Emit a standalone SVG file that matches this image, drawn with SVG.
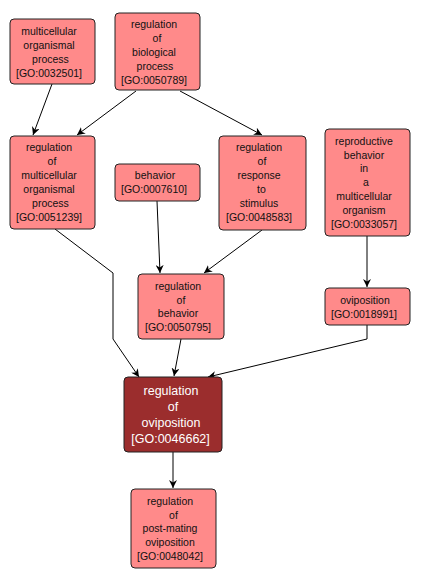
<svg xmlns="http://www.w3.org/2000/svg" width="421" height="583" viewBox="0 0 421 583">
<style>
.n rect{fill:#FF8A8A;stroke:#222;stroke-width:1}
.n text{font-family:"Liberation Sans",Arial,sans-serif;font-size:10.5px;fill:#111;text-anchor:middle}
#n_0046662 rect{fill:#9B2D2D}
#n_0046662 text{fill:#fff;font-size:12.5px}
.e path{fill:none;stroke:#000;stroke-width:1;marker-end:url(#ah)}
</style>
<defs>
<marker id="ah" viewBox="0 0 10 10" refX="10" refY="5" markerWidth="8" markerHeight="8" markerUnits="userSpaceOnUse" orient="auto">
<path d="M0,0 L10,5 L0,10 L3,5 z" fill="#000"/>
</marker>
</defs>
<rect width="421" height="583" fill="#fff"/>
<g id="edges" class="e">
<path d="M52,84 L33,135"/>
<path d="M136,91 L77,135"/>
<path d="M180,91 L262,135"/>
<path d="M55,229 L113,273 L113,339 L139,377"/>
<path d="M157,201 L160,273"/>
<path d="M262,230 L204,273"/>
<path d="M367,236 L367,287"/>
<path d="M181,339 L174,376"/>
<path d="M367,325 L367,339 L208,377"/>
<path d="M173,452 L173,488"/>
</g>
<g id="n_0032501" class="n">
<rect x="10" y="19" width="85" height="65" rx="4"/>
<text x="49" y="35.4">multicellular</text>
<text x="49" y="49.3">organismal</text>
<text x="50.5" y="63.2">process</text>
<text x="49" y="77.1">[GO:0032501]</text>
</g>
<g id="n_0050789" class="n">
<rect x="115" y="13" width="85" height="77" rx="4"/>
<text x="154" y="28">regulation</text>
<text x="157" y="41.9">of</text>
<text x="154" y="55.8">biological</text>
<text x="155" y="69.7">process</text>
<text x="154" y="83.6">[GO:0050789]</text>
</g>
<g id="n_0051239" class="n">
<rect x="10" y="136" width="85" height="93" rx="4"/>
<text x="49" y="151.3">regulation</text>
<text x="52" y="165.2">of</text>
<text x="49" y="179.1">multicellular</text>
<text x="49" y="193">organismal</text>
<text x="50.5" y="206.9">process</text>
<text x="49" y="220.8">[GO:0051239]</text>
</g>
<g id="n_0007610" class="n">
<rect x="115" y="164" width="85" height="37" rx="4"/>
<text x="155" y="179.3">behavior</text>
<text x="154" y="193.2">[GO:0007610]</text>
</g>
<g id="n_0048583" class="n">
<rect x="219" y="136" width="87" height="94" rx="4"/>
<text x="259" y="151.3">regulation</text>
<text x="262" y="165.2">of</text>
<text x="259" y="179.1">response</text>
<text x="261.5" y="193">to</text>
<text x="259" y="206.9">stimulus</text>
<text x="259" y="220.8">[GO:0048583]</text>
</g>
<g id="n_0033057" class="n">
<rect x="325" y="129" width="85" height="107" rx="4"/>
<text x="364" y="144.6">reproductive</text>
<text x="364" y="158.5">behavior</text>
<text x="364" y="172.4">in</text>
<text x="366" y="186.3">a</text>
<text x="364" y="200.2">multicellular</text>
<text x="364" y="214.1">organism</text>
<text x="364" y="228">[GO:0033057]</text>
</g>
<g id="n_0050795" class="n">
<rect x="138" y="274" width="86" height="65" rx="4"/>
<text x="178" y="289.6">regulation</text>
<text x="181" y="303.5">of</text>
<text x="178" y="317.4">behavior</text>
<text x="178" y="331.3">[GO:0050795]</text>
</g>
<g id="n_0018991" class="n">
<rect x="325" y="288" width="85" height="37" rx="4"/>
<text x="365" y="303.6">oviposition</text>
<text x="364" y="317.5">[GO:0018991]</text>
</g>
<g id="n_0046662" class="n">
<rect x="124" y="377" width="98" height="75" rx="4"/>
<text x="171" y="395">regulation</text>
<text x="173" y="411">of</text>
<text x="171" y="427">oviposition</text>
<text x="170.5" y="443">[GO:0046662]</text>
</g>
<g id="n_0048042" class="n">
<rect x="131" y="489" width="85" height="79" rx="4"/>
<text x="170" y="504.6">regulation</text>
<text x="173.5" y="518.5">of</text>
<text x="170" y="532.4">post-mating</text>
<text x="170" y="546.3">oviposition</text>
<text x="170" y="560.2">[GO:0048042]</text>
</g>
</svg>
